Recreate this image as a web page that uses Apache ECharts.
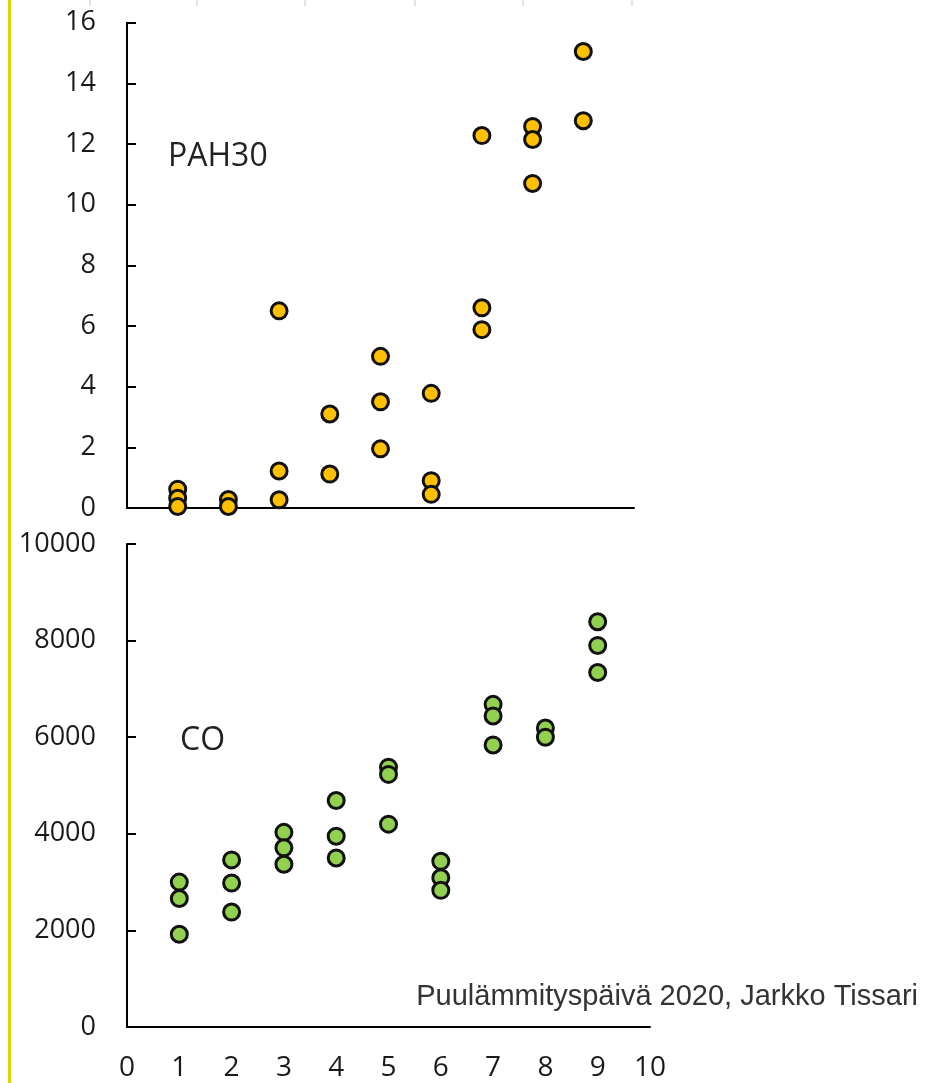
<!DOCTYPE html>
<html>
<head>
<meta charset="utf-8">
<script src="https://cdn.jsdelivr.net/npm/echarts@6/dist/echarts.min.js"></script>
<style>
html,body{margin:0;padding:0;background:#fff;}
#c{width:933px;height:1083px;}
</style>
</head>
<body>
<div id="c"></div>
<script>
// X positions (test case number) and values
const pahX = [1, 1, 1, 2, 2, 3, 3, 3, 4, 4, 5, 5, 5, 6, 6, 6, 7, 7, 7, 8, 8, 8, 9, 9];
const pahY = [0.62, 0.32, 0.05, 0.28, 0.05, 6.5, 1.22, 0.27, 3.1, 1.12, 5.0, 3.5, 1.95, 3.78, 0.9, 0.45, 12.28, 6.6, 5.88, 12.58, 12.15, 10.7, 15.05, 12.77];

const coX = [1, 1, 1, 2, 2, 2, 3, 3, 3, 4, 4, 4, 5, 5, 5, 6, 6, 6, 7, 7, 7, 8, 8, 9, 9, 9];
const coY = [3000, 2660, 1920, 3460, 2980, 2380, 4030, 3710, 3370, 4690, 3950, 3500, 5380, 5230, 4200, 3430, 3090, 2830, 6680, 6440, 5840, 6190, 6000, 8390, 7900, 7340];

const xMin = 0, xMax = 10, xStep = 1;
const pahMin = 0, pahMax = 16, pahStep = 2;
const coMin = 0, coMax = 10000, coStep = 2000;

const pahLabel = 'PAH30';
const coLabel = 'CO';
const footer = 'Puulämmityspäivä 2020, Jarkko Tissari';

const chart = echarts.init(document.getElementById('c'), null, {renderer: 'canvas'});

const labelFont = 'Open Sans';
const labelColor = '#1a1a1a';
const axisLine = {show: true, onZero: false, lineStyle: {color: '#000', width: 2}};

function xAx(gi, showLabel) {
  return {
    gridIndex: gi, type: 'value', min: xMin, max: xMax, interval: xStep,
    axisLine: axisLine,
    axisTick: {show: false},
    axisLabel: {show: showLabel, margin: 27, fontSize: 28, fontFamily: labelFont, color: labelColor,
                formatter: v => String(v)},
    splitLine: {show: false}
  };
}
function yAx(gi, mn, mx, st) {
  return {
    gridIndex: gi, type: 'value', min: mn, max: mx, interval: st,
    axisLine: axisLine,
    axisTick: {show: true, inside: true, length: 9, lineStyle: {color: '#000', width: 2}},
    axisLabel: {margin: 31, fontSize: 27, fontFamily: labelFont, color: labelColor,
                formatter: v => String(v)},
    splitLine: {show: false}
  };
}

const faintTicks = [90, 197, 305, 415, 523, 632].map(x => ({
  type: 'line', shape: {x1: x, y1: 0, x2: x, y2: 6},
  style: {stroke: '#d8d8d8', lineWidth: 1.5}, silent: true
}));

chart.setOption({
  animation: false,
  backgroundColor: '#fff',
  grid: [
    {left: 127, top: 22.7, width: 507, height: 485.3},
    {left: 127, top: 544, width: 523, height: 483}
  ],
  xAxis: [xAx(0, false), xAx(1, true)],
  yAxis: [yAx(0, pahMin, pahMax, pahStep), yAx(1, coMin, coMax, coStep)],
  series: [
    {
      type: 'scatter', xAxisIndex: 0, yAxisIndex: 0,
      data: pahX.map((x, i) => [x, pahY[i]]),
      symbol: 'circle', symbolSize: 16,
      itemStyle: {color: '#FFC000', borderColor: '#111', borderWidth: 3, opacity: 1},
      emphasis: {disabled: true}
    },
    {
      type: 'scatter', xAxisIndex: 1, yAxisIndex: 1,
      data: coX.map((x, i) => [x, coY[i]]),
      symbol: 'circle', symbolSize: 16,
      itemStyle: {color: '#92D050', borderColor: '#111', borderWidth: 3, opacity: 1},
      emphasis: {disabled: true}
    }
  ],
  graphic: [
    {type: 'rect', shape: {x: 8, y: 0, width: 3, height: 1083}, style: {fill: '#dcd600'}, silent: true},
    ...faintTicks,
    {type: 'text', x: 168, y: 157, style: {text: pahLabel, fontSize: 32, fontFamily: labelFont, fill: '#222', verticalAlign: 'middle'}},
    {type: 'text', x: 180, y: 741, style: {text: coLabel, fontSize: 32, fontFamily: labelFont, fill: '#222', verticalAlign: 'middle'}},
    {type: 'text', x: 918, y: 997, style: {text: footer, fontSize: 29, fontFamily: 'Liberation Sans', fill: '#333', align: 'right', verticalAlign: 'middle'}}
  ]
});
</script>
</body>
</html>
